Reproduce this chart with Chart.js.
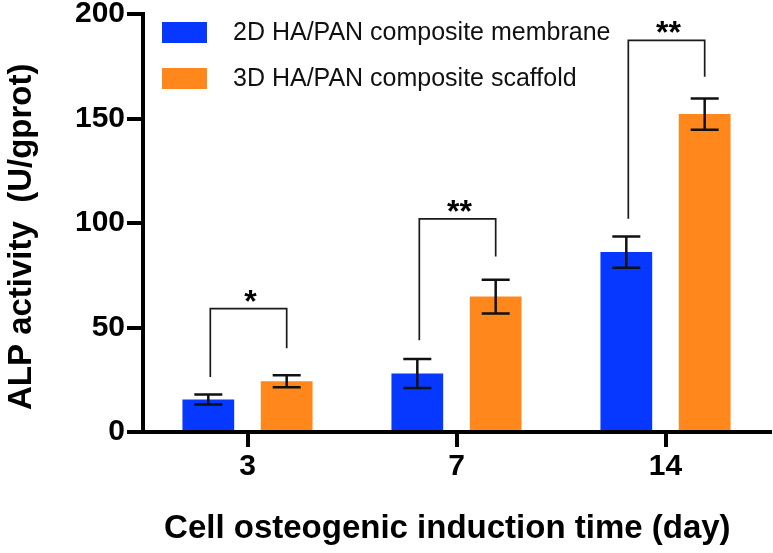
<!DOCTYPE html>
<html>
<head>
<meta charset="utf-8">
<script src="https://cdn.jsdelivr.net/npm/chart.js@4.4.0/dist/chart.umd.min.js"></script>
<style>
  body { margin: 0; background: #fff; }
  #wrap { width: 773px; height: 553px; }
</style>
</head>
<body>
<div id="wrap"><canvas id="grafica" width="773" height="553"></canvas></div>
<script>
// datos
let dias = ['3', '7', '14'];
let serie2D = [15.6, 28.0, 86.1];
let serie3D = [24.3, 64.8, 152.1];
let error2D = [2.4, 6.9, 7.5];
let error3D = [2.9, 8.1, 7.5];
let nombre2D = '2D HA/PAN composite membrane';
let nombre3D = '3D HA/PAN composite scaffold';
let ticksY = [0, 50, 100, 150, 200];

// corchetes de significancia
let signos = ['*', '**', '**'];
let corcheteArriba = [59, 102, 187.4];
let corcheteIzq = [26.3, 43.9, 102];
let corcheteDer = [40.1, 84, 170];

let azul = '#0638ff';
let naranja = '#ff871c';
let fuente = '"Liberation Sans", Arial, Helvetica, sans-serif';

// barras de error + corchetes
let extras = {
    id: 'extras',
    afterDatasetsDraw(chart) {
        let ctx = chart.ctx;
        let y = chart.scales.y;
        let errores = [error2D, error3D];
        let valores = [serie2D, serie3D];
        ctx.save();
        ctx.strokeStyle = '#111';
        ctx.lineWidth = 2.5;
        for (let d = 0; d < 2; d++) {
            let meta = chart.getDatasetMeta(d);
            for (let i = 0; i < meta.data.length; i++) {
                let x = meta.data[i].x;
                let arriba = y.getPixelForValue(valores[d][i] + errores[d][i]);
                let abajo = y.getPixelForValue(valores[d][i] - errores[d][i]);
                ctx.beginPath();
                ctx.moveTo(x, arriba); ctx.lineTo(x, abajo);
                ctx.moveTo(x - 14, arriba); ctx.lineTo(x + 14, arriba);
                ctx.moveTo(x - 14, abajo); ctx.lineTo(x + 14, abajo);
                ctx.stroke();
            }
        }
        let m0 = chart.getDatasetMeta(0);
        let m1 = chart.getDatasetMeta(1);
        ctx.lineWidth = 1.7;
        ctx.strokeStyle = '#1a1a1a';
        ctx.fillStyle = '#000';
        ctx.font = 'bold 32px ' + fuente;
        ctx.textAlign = 'center';
        ctx.textBaseline = 'alphabetic';
        for (let i = 0; i < signos.length; i++) {
            let x1 = m0.data[i].x + 2;
            let x2 = m1.data[i].x;
            let top = y.getPixelForValue(corcheteArriba[i]);
            ctx.beginPath();
            ctx.moveTo(x1, y.getPixelForValue(corcheteIzq[i]));
            ctx.lineTo(x1, top);
            ctx.lineTo(x2, top);
            ctx.lineTo(x2, y.getPixelForValue(corcheteDer[i]));
            ctx.stroke();
            ctx.fillText(signos[i], (x1 + x2) / 2 + 2, top + 3);
        }
        ctx.restore();
    },
    afterDraw(chart) {
        // leyenda dentro del area
        let ctx = chart.ctx;
        let items = [[nombre2D, azul, 22], [nombre3D, naranja, 68]];
        ctx.save();
        ctx.font = '25px ' + fuente;
        ctx.textBaseline = 'middle';
        ctx.textAlign = 'left';
        for (let it of items) {
            ctx.fillStyle = it[1];
            ctx.fillRect(162, it[2], 45, 21);
            ctx.fillStyle = '#111';
            ctx.fillText(it[0], 233, it[2] + 11);
        }
        ctx.restore();
    }
};

new Chart('grafica', {
    type: 'bar',
    data: {
        labels: dias,
        datasets: [{
            label: nombre2D,
            data: serie2D,
            backgroundColor: azul,
            borderWidth: 0,
            categoryPercentage: 0.75,
            barPercentage: 0.66
        }, {
            label: nombre3D,
            data: serie3D,
            backgroundColor: naranja,
            borderWidth: 0,
            categoryPercentage: 0.75,
            barPercentage: 0.66
        }]
    },
    options: {
        responsive: false,
        animation: false,
        layout: { padding: { top: 13, right: 3, left: 0, bottom: 0 } },
        plugins: {
            legend: { display: false },
            tooltip: { enabled: false }
        },
        scales: {
            x: {
                offset: true,
                grid: { offset: false, drawOnChartArea: false, drawTicks: true, tickLength: 15, lineWidth: 4, tickWidth: 4, color: '#000' },
                border: { display: true, color: '#000', width: 4 },
                ticks: { color: '#000', padding: 2, font: { family: fuente, size: 30, weight: 'bold' } },
                title: {
                    display: true,
                    text: 'Cell osteogenic induction time (day)  ',
                    color: '#000',
                    font: { family: fuente, size: 33, weight: 'bold' },
                    padding: { top: 0, bottom: 4 }
                },
                afterFit(scale) { scale.height = 121; }
            },
            y: {
                min: 0,
                max: 200,
                afterBuildTicks(scale) { scale.ticks = ticksY.map(v => ({ value: v })); },
                grid: { drawOnChartArea: false, drawTicks: true, tickLength: 16, lineWidth: 4, tickWidth: 4, color: '#000' },
                border: { display: true, color: '#000', width: 4 },
                ticks: { color: '#000', padding: 2, font: { family: fuente, size: 30, weight: 'bold', lineHeight: 0.8 } },
                title: {
                    display: true,
                    text: 'ALP activity  (U/gprot)   ',
                    color: '#000',
                    font: { family: fuente, size: 33, weight: 'bold' },
                    padding: { top: 2, bottom: 0 }
                },
                afterFit(scale) { scale.width = 143; }
            }
        }
    },
    plugins: [extras]
});
</script>
</body>
</html>
